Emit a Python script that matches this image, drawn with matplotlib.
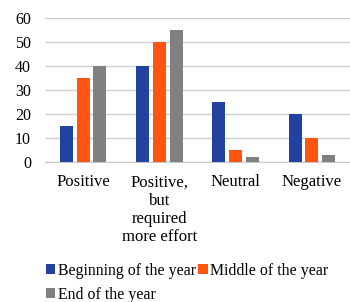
import os
import numpy as np
import matplotlib
matplotlib.use("Agg")
import matplotlib.pyplot as plt
from matplotlib import font_manager

categories = ["Positive", "Positive,\nbut\nrequired\nmore effort", "Neutral", "Negative"]
beginning = [15, 40, 25, 20]
middle = [35, 50, 5, 10]
end = [40, 55, 2, 3]
series_names = ["Beginning of the year", "Middle of the year", "End of the year"]
colors = ["#2142A0", "#FF5511", "#808080"]

serif_path = "/usr/share/fonts/truetype/liberation/LiberationSerif-Regular.ttf"
if os.path.exists(serif_path):
    font_manager.fontManager.addfont(serif_path)
    serif_name = font_manager.FontProperties(fname=serif_path).get_name()
else:
    serif_name = "DejaVu Serif"
plt.rcParams["font.family"] = [serif_name, "DejaVu Serif"]

fig = plt.figure(figsize=(3.5, 3.02), dpi=100, facecolor="white")
ax = fig.add_axes([45 / 350, 1 - 162 / 302, 305 / 350, 144 / 302])

x = np.arange(len(categories))
w = 0.17
step = 0.22
bars = []
for i, (vals, name, c) in enumerate(zip([beginning, middle, end], series_names, colors)):
    b = ax.bar(x + (i - 1) * step, vals, width=w, color=c, label=name, zorder=3)
    bars.append(b)

ax.set_xlim(-0.5, len(categories) - 0.5)
ax.set_ylim(0, 60)
ax.set_yticks(range(0, 61, 10))
ax.set_xticks(x)
ax.set_xticklabels(categories, fontsize=12, linespacing=1.18)
ax.tick_params(axis="y", length=0, pad=10, labelsize=11.5)
ax.tick_params(axis="x", length=0, pad=9)
ax.yaxis.grid(True, color="#D0D0D0", linewidth=1, zorder=0)

for s in ["top", "right", "left"]:
    ax.spines[s].set_visible(False)
ax.spines["bottom"].set_color("#C8C8C8")

# legend: two columns, first row Beginning / Middle, second row End
handles = [bars[0], bars[2], bars[1]]
labels = [series_names[0], series_names[2], series_names[1]]
fig.legend(handles, labels, ncol=2, loc="upper left", bbox_to_anchor=(38 / 350, 1 - 255 / 302),
           frameon=False, fontsize=11.4, handlelength=0.6, handleheight=0.6,
           handletextpad=0.15, columnspacing=0.15, labelspacing=0.5, borderpad=0)

fig.savefig("out.png", dpi=100, facecolor="white")
